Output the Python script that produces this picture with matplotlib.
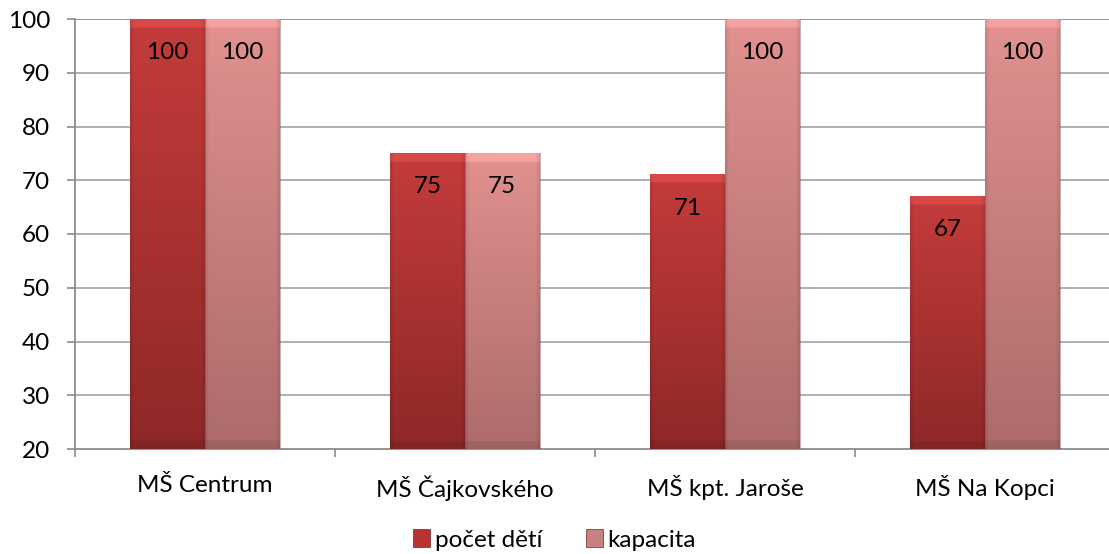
import numpy as np
import matplotlib.pyplot as plt
from matplotlib.colors import to_rgb
from matplotlib.patches import Patch

plt.rcParams['font.family'] = ['Lato', 'DejaVu Sans']

# data
skoly = ['MŠ Centrum', 'MŠ Čajkovského', 'MŠ kpt. Jaroše', 'MŠ Na Kopci']
pocet_deti = [100, 75, 71, 67]
kapacita = [100, 75, 100, 100]
serie = ['počet dětí', 'kapacita']

# colours (top, bottom) of the gradient
barvy = {
    'počet dětí': ('#C43C3B', '#8E2827'),
    'kapacita': ('#E19190', '#AD6B6B'),
}
legenda_barvy = ['#B83232', '#C98080']

fig = plt.figure(figsize=(11.09, 5.54), dpi=100)
ax = fig.add_axes([75 / 1109, 1 - 449 / 554, 1040 / 1109, 430 / 554])

ymin, ymax = 20, 100
ax.set_xlim(0, 4)
ax.set_ylim(ymin, ymax)

sirka = 0.287
FS = 17.5


def gradient_bar(x0, h, top, bottom):
    # vertical gradient + soft bevel
    t = np.array(to_rgb(top))
    b = np.array(to_rgb(bottom))
    ny, nx = 300, 60
    f = np.linspace(0, 1, ny)[:, None, None]
    img = t * (1 - f) + b * f
    img = np.repeat(img, nx, axis=1)
    xs = np.linspace(0, 1, nx)
    edge = np.clip(np.minimum(xs, 1 - xs) / 0.05, 0, 1)
    shade = 0.9 + 0.1 * edge
    img = img * shade[None, :, None]
    ys = np.linspace(0, 1, ny)
    topband = (ys * (h - ymin) < 1.5)
    img[topband] = np.clip(img[topband] * 1.05 + 0.04, 0, 1)
    botband = ((1 - ys) * (h - ymin) < 1.4)
    img[botband] = img[botband] * 0.92
    ax.imshow(img, extent=(x0, x0 + sirka, ymin, h), aspect='auto',
              origin='upper', zorder=3, interpolation='bilinear')
    ax.plot([x0 + sirka, x0 + sirka], [ymin, h], color='#7a4a4a', lw=0.6,
            alpha=0.5, zorder=3.5)


for i, skola in enumerate(skoly):
    stred = i + 0.5
    for j, (nazev, hodnoty) in enumerate(zip(serie, [pocet_deti, kapacita])):
        x0 = stred - sirka + j * sirka
        h = hodnoty[i]
        gradient_bar(x0, h, *barvy[nazev])
        ax.text(x0 + sirka / 2, h - 6.2, str(h), ha='center', va='center',
                fontsize=FS, color='black', zorder=5)

# grid
for y in range(30, 100, 10):
    ax.axhline(y, color='#9A9A9A', lw=1.1, zorder=1)
ax.axhline(100, color='#C97272', lw=1.3, zorder=2)

for s in ['top', 'right']:
    ax.spines[s].set_visible(False)
ax.spines['left'].set_color('#8C8C8C')
ax.spines['bottom'].set_color('#8C8C8C')
ax.spines['left'].set_linewidth(1.3)
ax.spines['bottom'].set_linewidth(1.3)
ax.spines['left'].set_zorder(4)

ax.set_yticks(range(20, 101, 10))
ax.tick_params(axis='y', labelsize=FS, length=6, color='#8C8C8C', width=1.2, pad=12)
ax.set_xticks([0, 1, 2, 3, 4])
ax.set_xticklabels([])
ax.tick_params(axis='x', length=6, color='#8C8C8C', width=1.2)
ax.set_xticks([i + 0.5 for i in range(4)], minor=True)
ax.set_xticklabels(skoly, minor=True)
ax.tick_params(axis='x', which='minor', length=0, labelsize=FS, pad=19)

# legend
handles = [Patch(facecolor=c, edgecolor='#6a2a2a', lw=0.5) for c in legenda_barvy]
fig.legend(handles, serie, loc='center', bbox_to_anchor=(0.5, 1 - 540 / 554),
           ncol=2, frameon=False, fontsize=FS, handlelength=0.7,
           handleheight=0.7, handletextpad=0.2, columnspacing=1.8)

fig.savefig('out.png', dpi=100)
